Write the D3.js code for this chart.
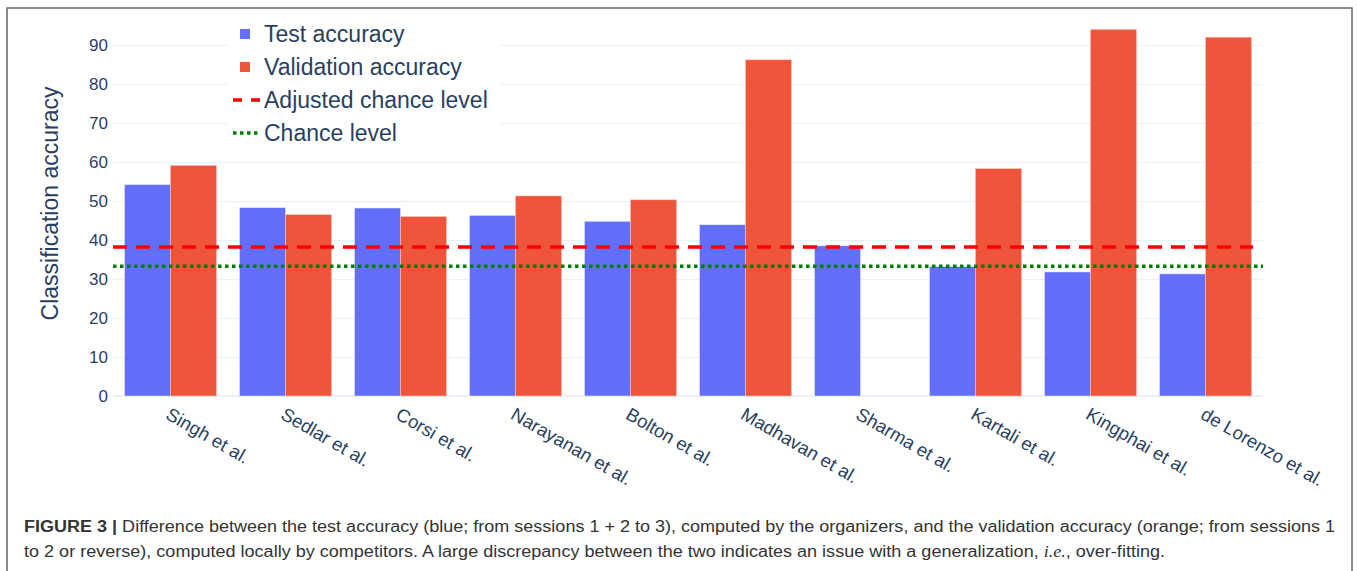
<!DOCTYPE html>
<html>
<head>
<meta charset="utf-8">
<script src="https://cdn.jsdelivr.net/npm/d3@7"></script>
<style>
  body { margin: 0; background: #fff; }
  svg { display: block; font-family: "Liberation Sans", Arial, sans-serif; }
</style>
</head>
<body>
<div id="chart"></div>
<script>
// DATA
const authors = ["Singh et al.", "Sedlar et al.", "Corsi et al.", "Narayanan et al.", "Bolton et al.",
  "Madhavan et al.", "Sharma et al.", "Kartali et al.", "Kingphai et al.", "de Lorenzo et al."]
const testAcc = [54.2, 48.3, 48.2, 46.3, 44.8, 43.9, 38.5, 33.2, 31.8, 31.3]
const validAcc = [59.1, 46.5, 46.0, 51.3, 50.3, 86.2, null, 58.3, 94.0, 92.0]
const yTicks = [0, 10, 20, 30, 40, 50, 60, 70, 80, 90]
const adjustedChance = 38.2
const chanceLevel = 33.3
const seriesNames = ["Test accuracy", "Validation accuracy", "Adjusted chance level", "Chance level"]

const width = 1357, height = 571
const plot = {left: 113, right: 1263, top: 20, bottom: 396}
const fontColor = "#2a3f5f"

const svg = d3.select("#chart").append("svg")
  .attr("width", width)
  .attr("height", height)

// frame
svg.append("rect")
  .attr("x", 7).attr("y", 8)
  .attr("width", 1345).attr("height", 575)
  .attr("fill", "none")
  .attr("stroke", "#666")
  .attr("stroke-width", 1.5)

// scales
const x0 = d3.scaleBand()
  .domain(authors)
  .range([plot.left, plot.right])
  .paddingInner(0.2)
  .paddingOuter(0.1)

const x1 = d3.scaleBand()
  .domain(["test", "valid"])
  .range([0, x0.bandwidth()])

const yScale = d3.scaleLinear()
  .domain([0, 10])
  .range([plot.bottom, plot.bottom - 39])

// grid + y axis
const yAxis = d3.axisLeft(yScale)
  .tickValues(yTicks)
  .tickSize(-(plot.right - plot.left))
  .tickPadding(6)

svg.append("g")
  .attr("class", "yAxis")
  .attr("transform", `translate(${plot.left},0)`)
  .call(yAxis)
  .call(g => g.select(".domain").remove())
  .call(g => g.selectAll(".tick line").attr("stroke", "#ebf0f8").attr("stroke-width", 1))
  .call(g => g.selectAll(".tick text")
    .attr("fill", fontColor)
    .attr("font-size", 17)
    .attr("x", -5))

// zero line
svg.append("line")
  .attr("x1", plot.left).attr("x2", plot.right)
  .attr("y1", yScale(0)).attr("y2", yScale(0))
  .attr("stroke", "#ebf0f8")
  .attr("stroke-width", 2)

// y axis label
svg.append("text")
  .attr("transform", `translate(58,${(yScale(0) + yScale(90)) / 2 - 17}) rotate(-90)`)
  .attr("text-anchor", "middle")
  .attr("fill", fontColor)
  .attr("font-size", 23)
  .text("Classification accuracy")

// legend background (covers the grid)
svg.append("rect")
  .attr("x", 228).attr("y", 18)
  .attr("width", 272).attr("height", 132)
  .attr("fill", "#fff")

// BARS
const groups = svg.selectAll(".grp")
  .data(authors)
  .join("g")
  .attr("class", "grp")
  .attr("transform", d => `translate(${x0(d)},0)`)

groups.append("rect")
  .attr("x", x1("test"))
  .attr("y", (d, i) => yScale(testAcc[i]))
  .attr("width", x1.bandwidth())
  .attr("height", (d, i) => yScale(0) - yScale(testAcc[i]))
  .attr("fill", "#636efa")
  .attr("stroke", "#e5ecf6")
  .attr("stroke-width", 0.5)

groups.filter((d, i) => validAcc[i] != null)
  .append("rect")
  .attr("x", x1("valid"))
  .attr("y", d => yScale(validAcc[authors.indexOf(d)]))
  .attr("width", x1.bandwidth())
  .attr("height", d => yScale(0) - yScale(validAcc[authors.indexOf(d)]))
  .attr("fill", "#ef553b")
  .attr("stroke", "#f7c6bd")
  .attr("stroke-width", 0.5)

// chance lines
svg.append("line")
  .attr("x1", plot.left).attr("x2", plot.right - 10)
  .attr("y1", yScale(adjustedChance)).attr("y2", yScale(adjustedChance))
  .attr("stroke", "#ff0000")
  .attr("stroke-width", 3.5)
  .attr("stroke-dasharray", "14,9")

svg.append("line")
  .attr("x1", plot.left).attr("x2", plot.right)
  .attr("y1", yScale(chanceLevel)).attr("y2", yScale(chanceLevel))
  .attr("stroke", "#008000")
  .attr("stroke-width", 3.5)
  .attr("stroke-dasharray", "3.5,3.5")

// x tick labels
svg.append("g")
  .selectAll("text")
  .data(authors)
  .join("text")
  .attr("transform", d => `translate(${x0(d) + x0.bandwidth() / 2 + 1},${plot.bottom + 10}) rotate(30)`)
  .attr("dy", "0.75em")
  .attr("fill", fontColor)
  .attr("font-size", 18.5)
  .text(d => d)

// LEGEND
const legend = svg.append("g").attr("transform", "translate(240,34)")
const legendItems = legend.selectAll("g")
  .data(seriesNames)
  .join("g")
  .attr("transform", (d, i) => `translate(0,${i * 33})`)

legendItems.append("text")
  .attr("x", 24)
  .attr("dy", "0.35em")
  .attr("fill", fontColor)
  .attr("font-size", 23)
  .text(d => d)

legendItems.filter((d, i) => i < 2)
  .append("rect")
  .attr("x", 0).attr("y", -5)
  .attr("width", 10).attr("height", 10)
  .attr("fill", (d, i) => i === 0 ? "#636efa" : "#ef553b")

legendItems.filter((d, i) => i === 2)
  .append("line")
  .attr("x1", -7).attr("x2", 20)
  .attr("stroke", "#ff0000")
  .attr("stroke-width", 3.5)
  .attr("stroke-dasharray", "9,9")

legendItems.filter((d, i) => i === 3)
  .append("line")
  .attr("x1", -7).attr("x2", 20)
  .attr("stroke", "#008000")
  .attr("stroke-width", 3.5)
  .attr("stroke-dasharray", "3.5,3.5")

// CAPTION
const caption = svg.append("g")
  .attr("font-family", "'Liberation Sans Narrow', 'Liberation Sans', Arial, sans-serif")
  .attr("font-size", 16)
  .attr("fill", "#333")

const line1 = caption.append("text")
  .attr("x", 24).attr("y", 532)
  .attr("textLength", 1311)
  .attr("lengthAdjust", "spacingAndGlyphs")
line1.append("tspan").attr("font-weight", "bold").text("FIGURE 3 | ")
line1.append("tspan").text("Difference between the test accuracy (blue; from sessions 1 + 2 to 3), computed by the organizers, and the validation accuracy (orange; from sessions 1")

const line2 = caption.append("text")
  .attr("x", 24).attr("y", 557)
  .attr("textLength", 1141)
  .attr("lengthAdjust", "spacingAndGlyphs")
line2.append("tspan").text("to 2 or reverse), computed locally by competitors. A large discrepancy between the two indicates an issue with a generalization, ")
line2.append("tspan").attr("font-family", "'Liberation Serif', serif").attr("font-style", "italic").text("i.e.")
line2.append("tspan").text(", over-fitting.")
</script>
</body>
</html>
